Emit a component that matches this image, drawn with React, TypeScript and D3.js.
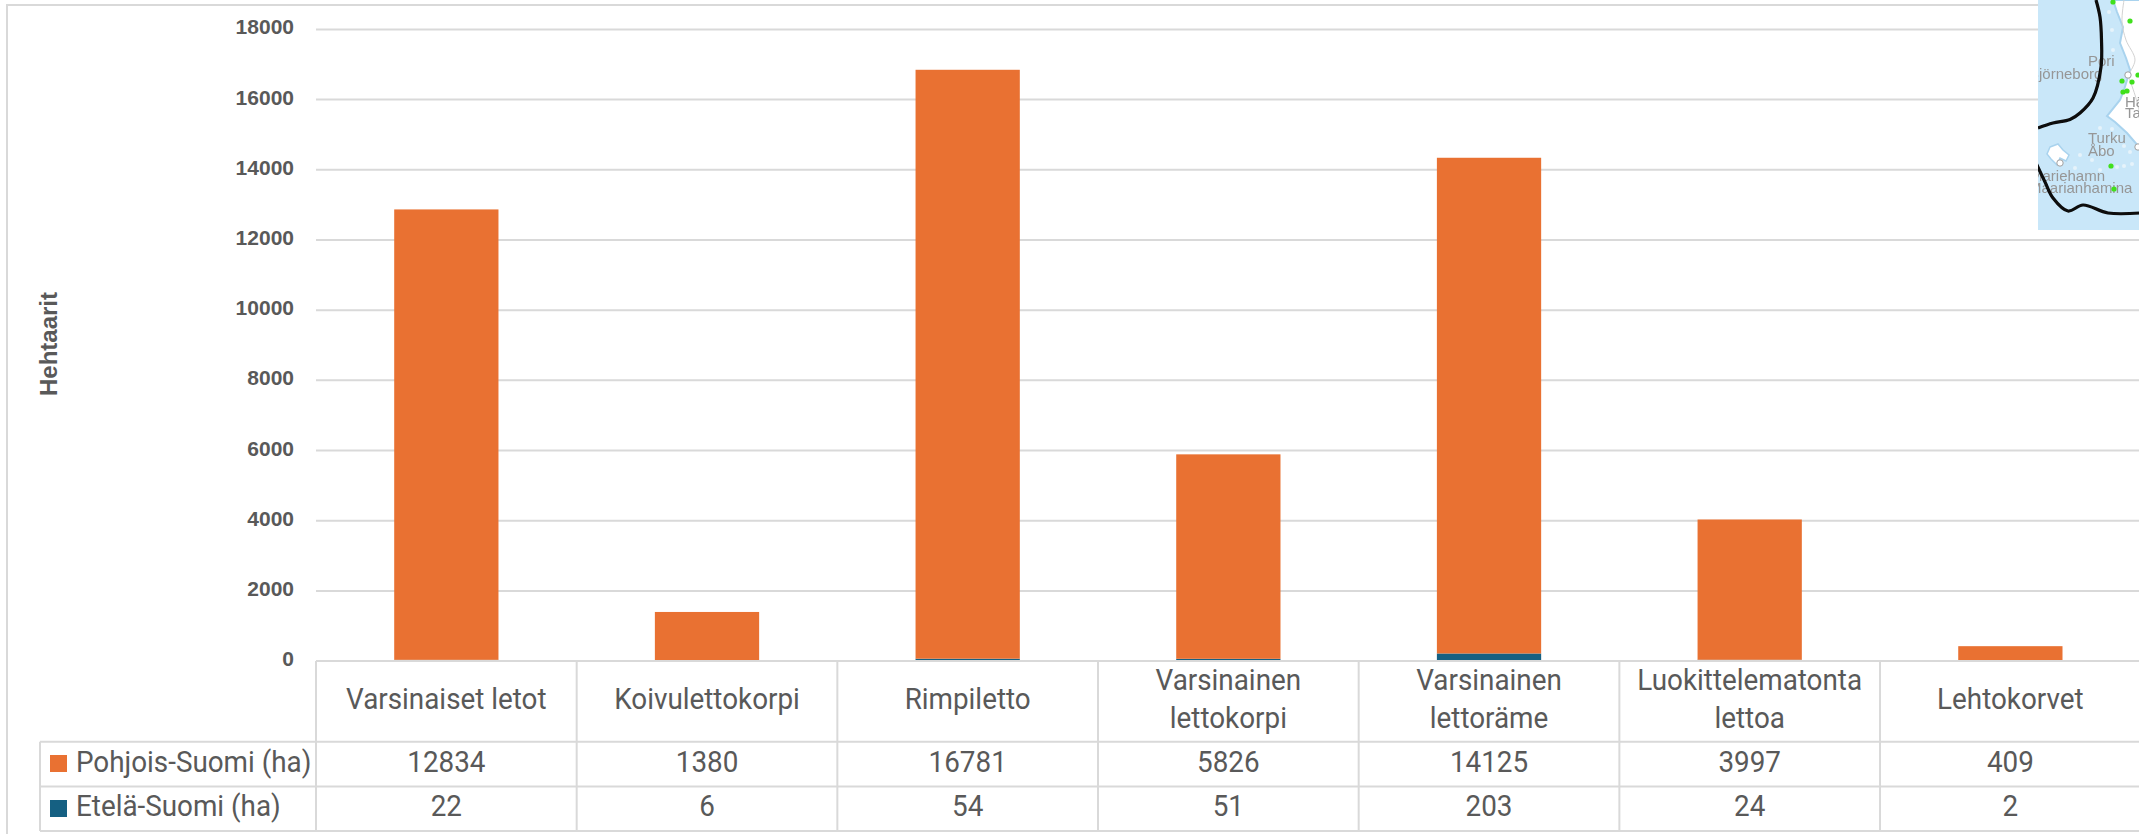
import React, { useRef, useEffect } from "react";
import * as d3 from "d3";

const categories = [
  "Varsinaiset letot",
  "Koivulettokorpi",
  "Rimpiletto",
  "Varsinainen lettokorpi",
  "Varsinainen lettoräme",
  "Luokittelematonta lettoa",
  "Lehtokorvet",
];
const wrappedCategories = ["Varsinainen lettokorpi", "Varsinainen lettoräme", "Luokittelematonta lettoa"];
const pohjoisValues = [12834, 1380, 16781, 5826, 14125, 3997, 409];
const etelaValues = [22, 6, 54, 51, 203, 24, 2];
const yTicks = [0, 2000, 4000, 6000, 8000, 10000, 12000, 14000, 16000, 18000];

// inset map that sits over the top right corner
const mapLabels = [
  { text: "Pori", x: 2088, y: 66 },
  { text: "Björneborg", x: 2029, y: 79 },
  { text: "Hä", x: 2125, y: 107 },
  { text: "Ta", x: 2125, y: 118 },
  { text: "Turku", x: 2088, y: 143 },
  { text: "Åbo", x: 2088, y: 156 },
  { text: "Mariehamn", x: 2030, y: 181 },
  { text: "Maarianhamina", x: 2029, y: 193 },
];
const mapDots = [
  [2113, 2], [2130, 21], [2122, 81], [2132, 82], [2138, 75], [2123, 92], [2127, 91],
  [2111, 166], [2114, 189],
];
const mapRings = [[2128, 75], [2060, 163], [2138, 147]];
const mapLand = [
  [2113, 0], [2117, 12], [2123, 27], [2120, 43], [2126, 58], [2130, 70], [2124, 90], [2120, 100], [2107, 116],
  [2115, 122], [2127, 133], [2139, 147], [2145, 147], [2145, 0],
];
const mapAland = [[2050, 147], [2058, 144], [2063, 150], [2069, 155], [2066, 161], [2060, 158], [2057, 165], [2051, 159], [2047, 154]];
const mapIslands = [
  [2112, 129], [2118, 138], [2124, 146], [2130, 152], [2117, 167], [2124, 166], [2132, 164], [2104, 150],
  [2080, 155], [2075, 168], [2092, 160], [2100, 170], [2109, 12], [2112, 30], [2113, 50], [2100, 128],
];
const mapRoads = [
  [[2124, 0], [2122, 22], [2126, 40], [2135, 60], [2128, 75]],
  [[2128, 75], [2135, 95], [2139, 110]],
];
const mapBorderNorth = [[2096, 0], [2100, 17], [2101.5, 40], [2101, 67], [2093, 98], [2080, 113], [2070, 119.5], [2053, 123], [2038, 128]];
const mapBorderSouth = [[2036, 163], [2045, 182], [2053, 198], [2068, 211], [2083, 205], [2108, 213], [2140, 213]];

const WIDTH = 2139;
const HEIGHT = 834;
const plotLeft = 316;
const plotRight = 2140.7;
const plotTop = 28.9;
const plotBottom = 660.6;
const tableLeft = 40;
const rowTop = 741.7;
const rowMid = 786.4;
const rowBottom = 831;

const gridColor = "#d9d9d9";
const textColor = "#595959";
const pohjoisColor = "#e97132";
const etelaColor = "#156082";
const tableFont = "Roboto, sans-serif";

const App = () => {
  const svgRef = useRef<SVGSVGElement>(null);

  useEffect(() => {
    const svg = d3.select(svgRef.current);
    svg.selectAll("*").remove();

    const x = d3.scaleBand().domain(categories).range([plotLeft, plotRight]).paddingInner(0.6).paddingOuter(0.3);
    const y = d3.scaleLinear().domain([0, 18000]).range([plotBottom, plotTop]);
    const step = x.step();

    // outer frame
    svg.append("path")
      .attr("d", `M7,${HEIGHT} V5 H${WIDTH}`)
      .attr("fill", "none")
      .attr("stroke", gridColor)
      .attr("stroke-width", 2);

    // gridlines and tick labels
    const axis = svg.append("g")
      .attr("transform", `translate(${plotLeft},0)`)
      .call(d3.axisLeft(y).tickValues(yTicks).tickSize(-(WIDTH - plotLeft)).tickPadding(22).tickFormat(d3.format("d")));
    axis.select(".domain").remove();
    axis.selectAll(".tick line").attr("stroke", gridColor).attr("stroke-width", 2);
    axis.selectAll(".tick text")
      .attr("font-family", "'Liberation Sans', sans-serif")
      .attr("font-size", 21)
      .attr("font-weight", "bold")
      .attr("fill", textColor)
      .attr("dy", "0.24em");

    svg.append("text")
      .attr("transform", `translate(57,344) rotate(-90)`)
      .attr("text-anchor", "middle")
      .attr("font-family", "'Liberation Sans', sans-serif")
      .attr("font-size", 24)
      .attr("font-weight", "bold")
      .attr("fill", textColor)
      .text("Hehtaarit");

    // stacked bars, Etelä at the bottom
    const rows = categories.map((c, i) => ({ category: c, etela: etelaValues[i], pohjois: pohjoisValues[i] }));
    const stack = d3.stack().keys(["etela", "pohjois"])(rows as any);
    const colors = { etela: etelaColor, pohjois: pohjoisColor };
    svg.append("g")
      .selectAll("g")
      .data(stack)
      .enter()
      .append("g")
      .attr("fill", (s: any) => colors[s.key])
      .selectAll("rect")
      .data((s: any) => s)
      .enter()
      .append("rect")
      .attr("x", (d: any) => x(d.data.category))
      .attr("width", x.bandwidth())
      .attr("y", (d: any) => y(d[1]))
      .attr("height", (d: any) => y(d[0]) - y(d[1]));

    // data table
    const table = svg.append("g");
    const hLines = [
      { y: 661, x0: plotLeft },
      { y: rowTop, x0: tableLeft },
      { y: rowMid, x0: tableLeft },
      { y: rowBottom, x0: tableLeft },
    ];
    table.selectAll(".hline")
      .data(hLines)
      .enter()
      .append("line")
      .attr("x1", (d) => d.x0)
      .attr("x2", WIDTH)
      .attr("y1", (d) => d.y)
      .attr("y2", (d) => d.y)
      .attr("stroke", gridColor)
      .attr("stroke-width", 2);
    table.selectAll(".vline")
      .data(d3.range(categories.length))
      .enter()
      .append("line")
      .attr("x1", (i) => plotLeft + i * step)
      .attr("x2", (i) => plotLeft + i * step)
      .attr("y1", 661)
      .attr("y2", rowBottom)
      .attr("stroke", gridColor)
      .attr("stroke-width", 2);
    table.append("line")
      .attr("x1", tableLeft)
      .attr("x2", tableLeft)
      .attr("y1", rowTop)
      .attr("y2", rowBottom)
      .attr("stroke", gridColor)
      .attr("stroke-width", 2);

    const cellText = (cx, baseline, label) =>
      table.append("text")
        .attr("transform", `translate(${cx},${baseline}) scale(0.96,1)`)
        .attr("text-anchor", "middle")
        .attr("font-family", tableFont)
        .attr("font-size", 29)
        .attr("fill", textColor)
        .text(label);

    categories.forEach((c, i) => {
      const cx = x(c) + x.bandwidth() / 2;
      if (wrappedCategories.includes(c)) {
        const parts = c.split(" ");
        cellText(cx, 690, parts[0]);
        cellText(cx, 727.5, parts[1]);
      } else {
        cellText(cx, 708.5, c);
      }
      cellText(cx, 772, pohjoisValues[i]);
      cellText(cx, 816, etelaValues[i]);
    });

    const legendRows = [
      { label: "Pohjois-Suomi (ha)", color: pohjoisColor, top: 755, baseline: 772 },
      { label: "Etelä-Suomi (ha)", color: etelaColor, top: 800, baseline: 816 },
    ];
    legendRows.forEach((r) => {
      table.append("rect").attr("x", 50).attr("y", r.top).attr("width", 17).attr("height", 17).attr("fill", r.color);
      table.append("text")
        .attr("transform", `translate(76,${r.baseline}) scale(0.96,1)`)
        .attr("font-family", tableFont)
        .attr("font-size", 29)
        .attr("fill", textColor)
        .text(r.label);
    });

    // inset map
    const defs = svg.append("defs");
    defs.append("clipPath").attr("id", "mapClip")
      .append("rect").attr("x", 2038).attr("y", 0).attr("width", WIDTH - 2038).attr("height", 230);
    defs.append("filter").attr("id", "mapBlur")
      .append("feGaussianBlur").attr("stdDeviation", 0.6);

    const smooth = d3.line().curve(d3.curveCatmullRom);
    const closed = d3.line().curve(d3.curveLinearClosed);

    const map = svg.append("g").attr("clip-path", "url(#mapClip)");
    const mapInner = map.append("g").attr("filter", "url(#mapBlur)");
    mapInner.append("rect").attr("x", 2038).attr("y", 0).attr("width", WIDTH - 2038).attr("height", 230).attr("fill", "#c9e7f9");
    mapInner.append("path").attr("d", closed(mapLand as any)).attr("fill", "#ffffff").attr("stroke", "#a9d3ee").attr("stroke-width", 2);
    mapInner.append("path").attr("d", closed(mapAland as any)).attr("fill", "#ffffff").attr("stroke", "#a9d3ee").attr("stroke-width", 1.5);
    mapInner.selectAll(".island")
      .data(mapIslands)
      .enter()
      .append("circle")
      .attr("cx", (d) => d[0])
      .attr("cy", (d) => d[1])
      .attr("r", 2)
      .attr("fill", "#e6f3fb");
    mapRoads.forEach((r) => {
      mapInner.append("path").attr("d", smooth(r as any)).attr("fill", "none").attr("stroke", "#d2d2d2").attr("stroke-width", 1);
    });
    mapInner.selectAll(".ring")
      .data(mapRings)
      .enter()
      .append("circle")
      .attr("cx", (d) => d[0])
      .attr("cy", (d) => d[1])
      .attr("r", 3.2)
      .attr("fill", "#ffffff")
      .attr("stroke", "#a0a0a0")
      .attr("stroke-width", 1);
    mapInner.selectAll(".label")
      .data(mapLabels)
      .enter()
      .append("text")
      .attr("x", (d) => d.x)
      .attr("y", (d) => d.y)
      .attr("font-family", "'Liberation Sans', sans-serif")
      .attr("font-size", 15)
      .attr("fill", "#969696")
      .text((d) => d.text);
    mapInner.selectAll(".dot")
      .data(mapDots)
      .enter()
      .append("circle")
      .attr("cx", (d) => d[0])
      .attr("cy", (d) => d[1])
      .attr("r", 2.6)
      .attr("fill", "#3fe01c");
    [mapBorderNorth, mapBorderSouth].forEach((d) => {
      mapInner.append("path").attr("d", smooth(d as any)).attr("fill", "none").attr("stroke", "#0a0a0a").attr("stroke-width", 3.2);
    });
  }, []);

  return (
    <svg
      ref={svgRef}
      width={WIDTH}
      height={HEIGHT}
      style={{ position: "absolute", left: 0, top: 0, background: "#ffffff" }}
    />
  );
};

export default App;
